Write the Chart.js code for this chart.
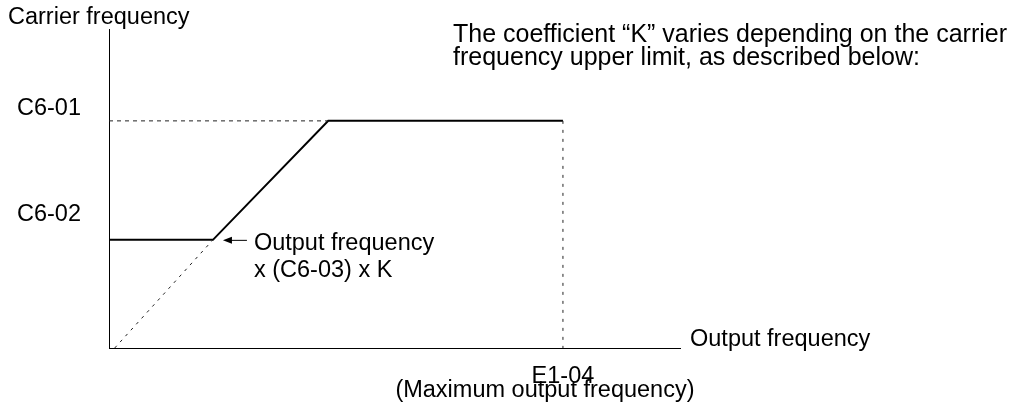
<!DOCTYPE html>
<html>
<head>
<meta charset="utf-8">
<script src="https://cdn.jsdelivr.net/npm/chart.js@4.4.1/dist/chart.umd.min.js"></script>
<style>
  html, body { margin: 0; padding: 0; background: #fff; }
  #wrap { width: 1015px; height: 410px; }
</style>
</head>
<body>
<div id="wrap"><canvas id="c" width="1015" height="410"></canvas></div>
<script>
// ---- data (arbitrary units: x 0..100, y 0..100) ----
const curveX = [0, 18.2, 38.4, 79.5];
const curveY = [33.9, 33.9, 71.2, 71.2];
const guideHX = [0, 38.4];  const guideHY = [71.2, 71.2];
const guideVX = [79.5, 79.5]; const guideVY = [71.2, 0];
const guideDX = [1, 18.2];  const guideDY = [0, 33.9];
const yTickValues = [71.2, 33.9];
const yTickLabels = ['C6-01', 'C6-02'];
const xTickValues = [79.5];
const xTickLabels = ['E1-04'];
const xTickSubLabel = '(Maximum output frequency)';
const yAxisTitle = 'Carrier frequency';
const xAxisTitle = 'Output frequency';
const noteLines = ['The coefficient \u201cK\u201d varies depending on the carrier', 'frequency upper limit, as described below:'];
const kneeLabel = ['Output frequency', 'x (C6-03) x K'];

const pts = (xs, ys) => xs.map((x, i) => ({ x, y: ys[i] }));
const FAM = "'Liberation Sans', Arial, Helvetica, sans-serif";
const FONT = "23.5px " + FAM;
const NOTE_FONT = "25px " + FAM;

const textPlugin = {
  id: 'texts',
  afterDraw(chart) {
    const { ctx, scales: { x, y }, chartArea: a } = chart;
    ctx.save();
    ctx.fillStyle = '#000';
    ctx.font = FONT;
    ctx.textBaseline = 'alphabetic';
    // y-axis title
    ctx.textAlign = 'left';
    ctx.fillText(yAxisTitle, a.left - 101, a.top - 5);
    // y tick labels
    ctx.textAlign = 'right';
    const yOff = [6, 19];
    yTickValues.forEach((v, i) => ctx.fillText(yTickLabels[i], a.left - 28, y.getPixelForValue(v) - yOff[i]));
    // x axis title
    ctx.textAlign = 'left';
    ctx.fillText(xAxisTitle, a.right + 10, a.bottom - 2);
    // x tick label
    ctx.textAlign = 'center';
    xTickValues.forEach((v, i) => ctx.fillText(xTickLabels[i], x.getPixelForValue(v), a.bottom + 35));
    ctx.fillText(xTickSubLabel, x.getPixelForValue(xTickValues[0]) - 18, a.bottom + 49);
    // note
    ctx.font = NOTE_FONT;
    ctx.textAlign = 'left';
    ctx.fillText(noteLines[0], 453, 42);
    ctx.fillText(noteLines[1], 453, 65);
    ctx.font = FONT;
    // knee arrow + label
    const kx = x.getPixelForValue(curveX[1]);
    const ky = y.getPixelForValue(curveY[1]);
    ctx.strokeStyle = '#000';
    ctx.lineWidth = 1;
    ctx.beginPath();
    ctx.moveTo(kx + 34, ky + 0.5);
    ctx.lineTo(kx + 14, ky + 0.5);
    ctx.stroke();
    ctx.beginPath();
    ctx.moveTo(kx + 10, ky + 0.5);
    ctx.lineTo(kx + 19, ky - 3);
    ctx.lineTo(kx + 19, ky + 4);
    ctx.closePath();
    ctx.fill();
    ctx.fillText(kneeLabel[0], kx + 41, ky + 10);
    ctx.fillText(kneeLabel[1], kx + 41, ky + 37);
    ctx.restore();
  }
};

const guide = (data, dash) => ({
  data, showLine: true, borderColor: '#222', borderWidth: 1, borderDash: dash,
  pointRadius: 0, fill: false, tension: 0
});

new Chart(document.getElementById('c'), {
  type: 'scatter',
  data: {
    datasets: [
      guide(pts(guideHX, guideHY), [4, 4]),
      guide(pts(guideVX, guideVY), [3, 6]),
      guide(pts(guideDX, guideDY), [3, 5]),
      { data: pts(curveX, curveY), showLine: true, borderColor: '#000', borderWidth: 2,
        pointRadius: 0, fill: false, tension: 0, borderJoinStyle: 'miter' }
    ]
  },
  options: {
    responsive: false,
    animation: false,
    events: [],
    layout: { padding: { left: 109, top: 29, right: 335, bottom: 62 } },
    plugins: { legend: { display: false }, tooltip: { enabled: false } },
    scales: {
      x: {
        type: 'linear', min: 0, max: 100,
        grid: { display: false, drawTicks: false },
        border: { display: true, color: '#000', width: 1 },
        ticks: { display: false },
        afterFit: s => { s.height = 0; }
      },
      y: {
        type: 'linear', min: 0, max: 100,
        grid: { display: false, drawTicks: false },
        border: { display: true, color: '#000', width: 1 },
        ticks: { display: false },
        afterFit: s => { s.width = 0; }
      }
    }
  },
  plugins: [textPlugin]
});
</script>
</body>
</html>
